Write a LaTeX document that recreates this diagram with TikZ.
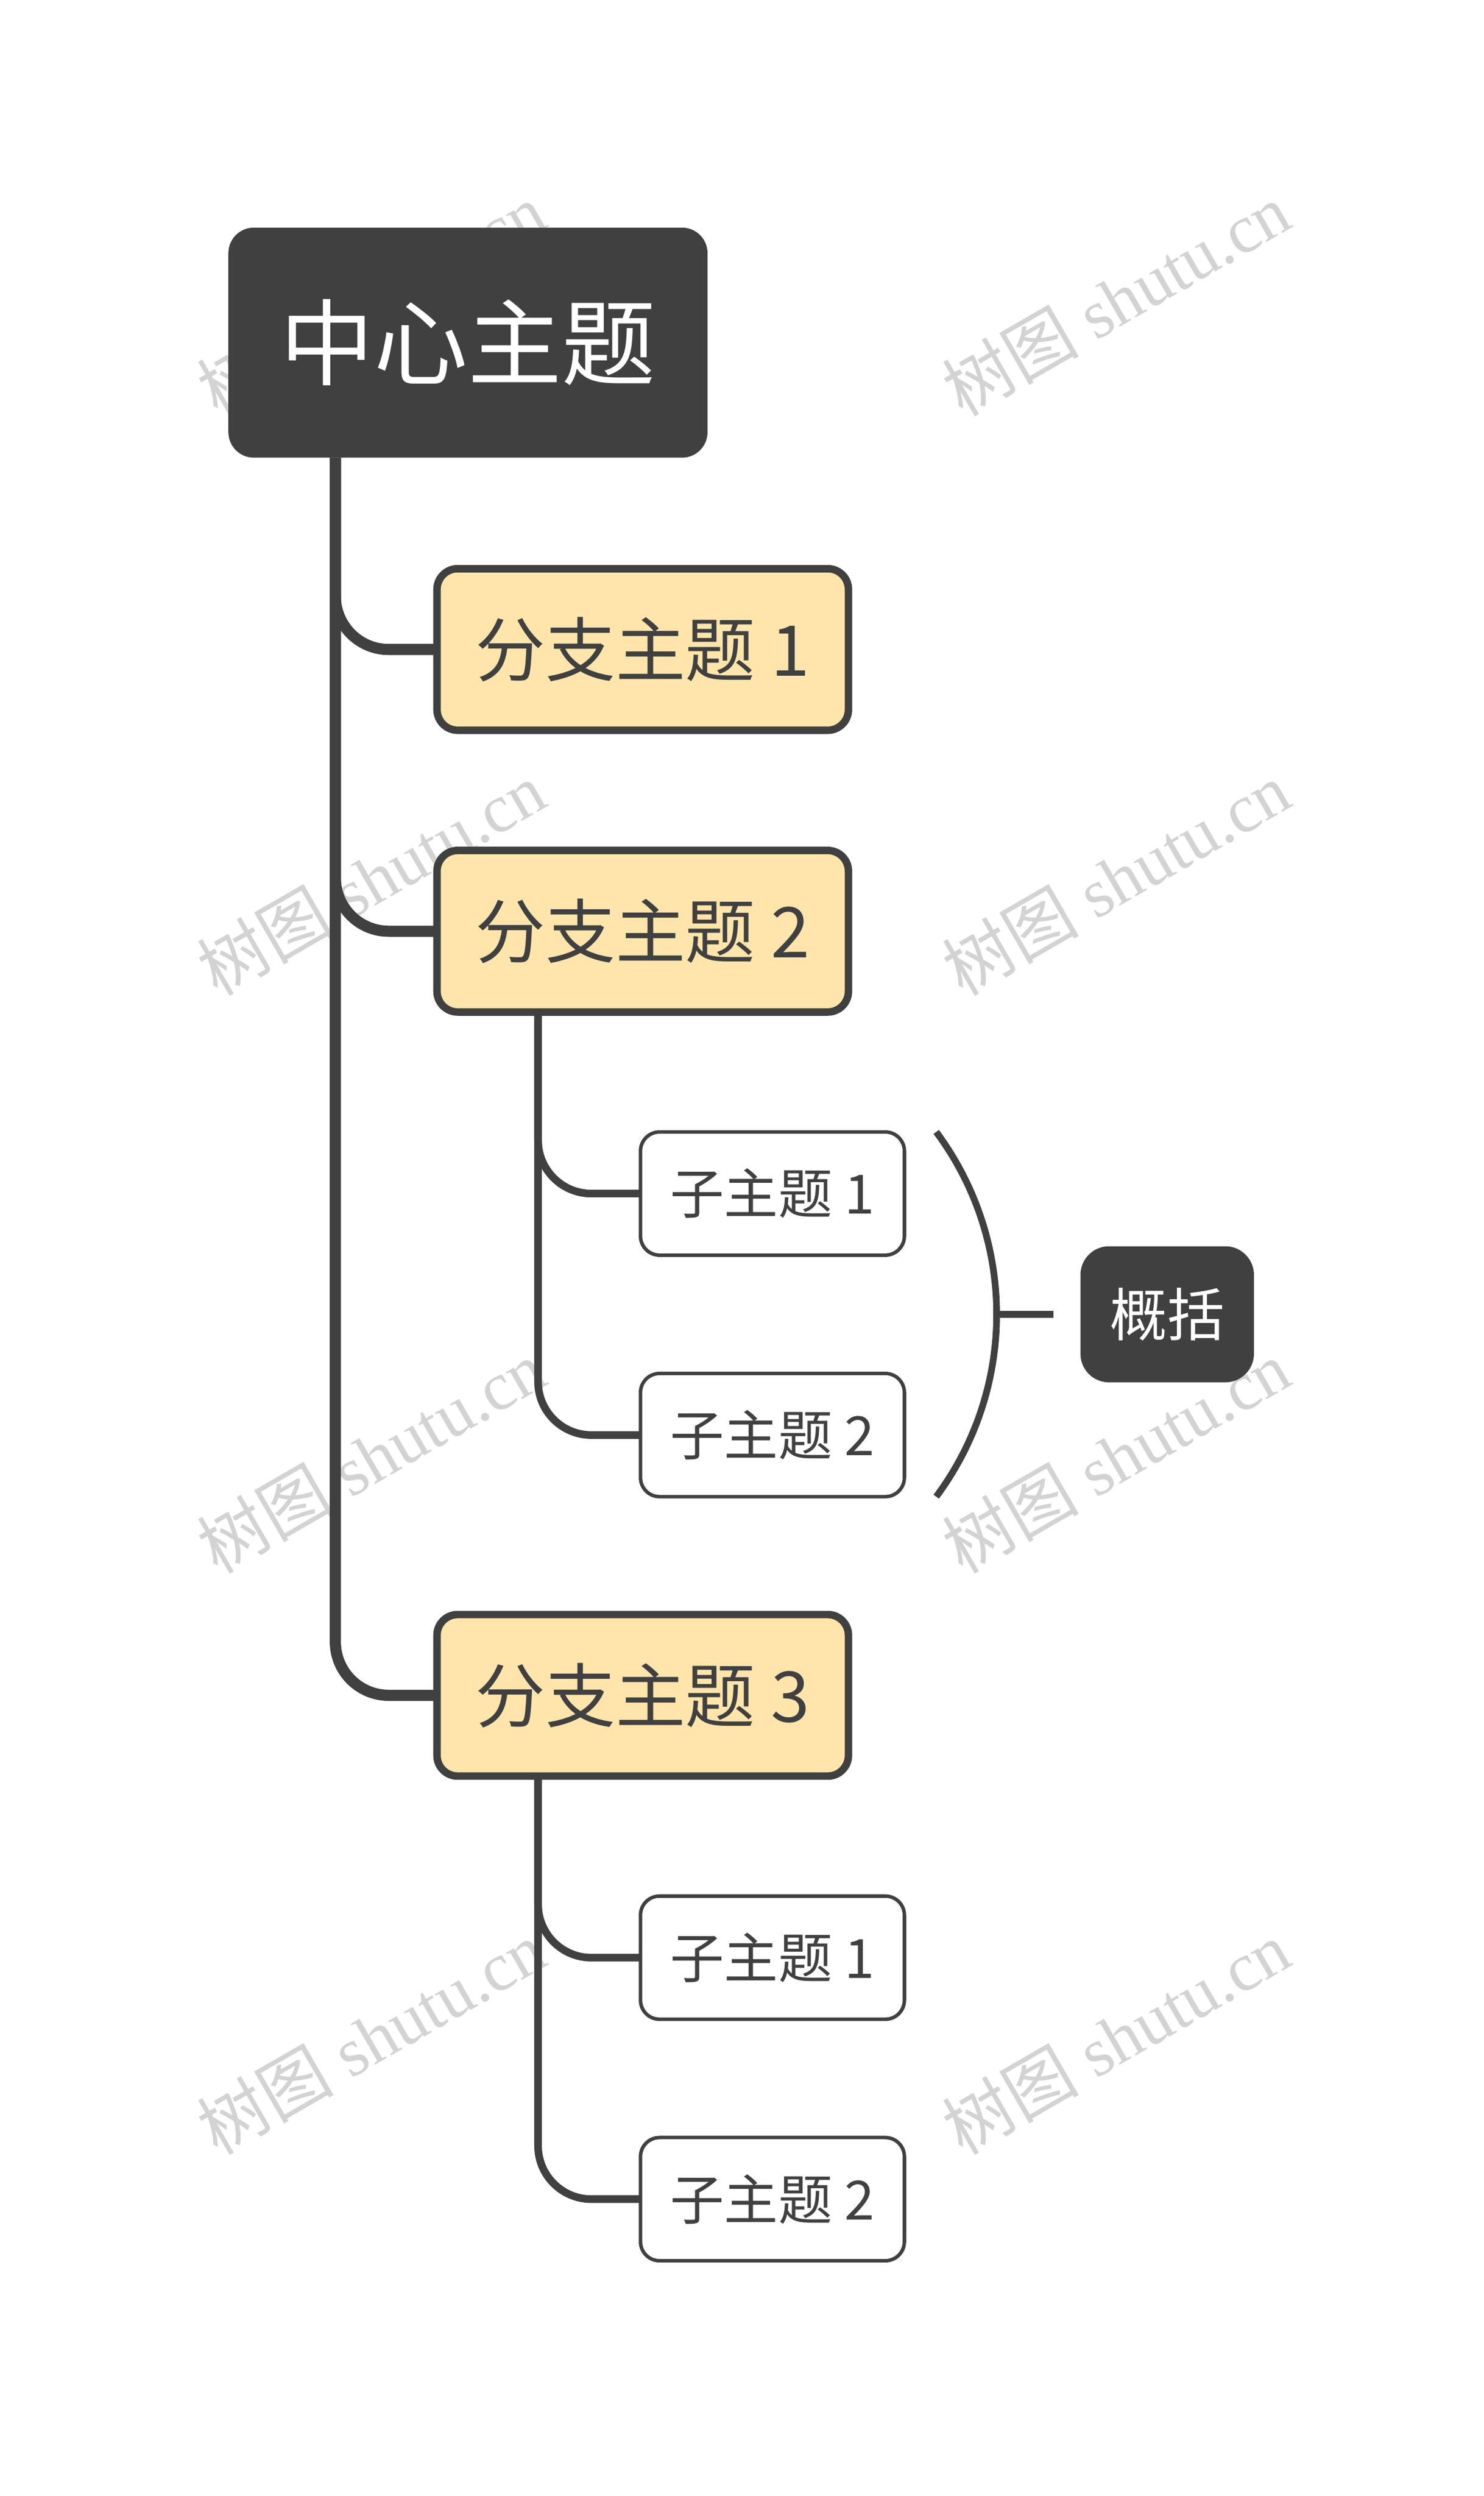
\documentclass[tikz,border=0pt]{standalone}
\usepackage{fontspec}
\setmainfont{Liberation Serif}
\newfontfamily\cjk{Noto Sans CJK SC}
\usepackage{tikz}
\usetikzlibrary{positioning, calc}
\definecolor{dark}{HTML}{404040}
\definecolor{peach}{HTML}{FFE5AB}

\begin{document}
\begin{tikzpicture}[x=1pt, y=1pt,
    every node/.style={outer sep=0pt, inner sep=0pt},
    central/.style={fill=dark, rounded corners=16pt, minimum width=301pt, minimum height=144.5pt,
        text=white, font=\cjk\fontsize{59}{59}\selectfont},
    branch/.style={draw=dark, line width=4.7pt, fill=peach, rounded corners=13pt, minimum width=258.5pt,
        minimum height=101.5pt, text=dark, font=\cjk\fontsize{44}{44}\selectfont},
    topic/.style={draw=dark, line width=2.2pt, fill=white, rounded corners=12pt, minimum width=165.8pt,
        minimum height=77.4pt, text=dark, font=\cjk\fontsize{34}{34}\selectfont},
    summary/.style={fill=dark, rounded corners=18pt, minimum width=109pt, minimum height=85.5pt,
        text=white, font=\cjk\fontsize{36}{36}\selectfont},
    trunk/.style={draw=dark, line width=7pt, rounded corners=33.5pt},
    twig/.style={draw=dark, line width=4.8pt, rounded corners=33.5pt},
    brace/.style={draw=dark, line width=4.2pt},
    wmark/.style={text=gray, text opacity=0.35, rotate=30, font=\fontsize{43}{43}\selectfont}]
    \useasboundingbox (0,0) rectangle (932,-1568);

    % watermark, behind everything
    \foreach \x in {233,701}
        \foreach \y in {188,552,915,1280}
            \node (wm-\x-\y) [wmark] at (\x,-\y) {{\cjk 树图} shutu.cn};

    \node (c) [central] at (294,-215.25) {中心主题};
    \node (b1) [branch, below right=69.75pt and 131.05pt of c.south west] {分支主题 1};
    \node (b2) [branch, below=75.5pt of b1] {分支主题 2};
    \node (b3) [branch, below=378.5pt of b2] {分支主题 3};
    \node (s1) [topic, below right=75.35pt and 127.85pt of b2.south west] {子主题 1};
    \node (s2) [topic, below=74.3pt of s1] {子主题 2};
    \node (s3) [topic, below right=75.35pt and 127.85pt of b3.south west] {子主题 1};
    \node (s4) [topic, below=74.3pt of s3] {子主题 2};
    \coordinate (gap) at ($(s1.south east)!.5!(s2.north east)$);
    \node (sm) [summary, right=110.6pt of gap] {概括};

    \foreach \b in {b1,b2,b3}
        \draw[trunk] ([xshift=67.2pt]c.south west) |- (\b.west);
    \foreach \s in {s1,s2}
        \draw[twig] ([xshift=63.5pt]b2.south west) |- (\s.west);
    \foreach \s in {s3,s4}
        \draw[twig] ([xshift=63.5pt]b3.south west) |- (\s.west);

    % summary bracket
    \draw[brace] ([xshift=20pt]s1.north east) .. controls +(50.6,-68.1) and +(50.6,68.1) .. ([xshift=20pt]s2.south east);
    \coordinate (tip) at ([xshift=57.9pt]gap);
    \draw[brace] (tip) -- ([xshift=-17pt]sm.west);
\end{tikzpicture}
\end{document}
